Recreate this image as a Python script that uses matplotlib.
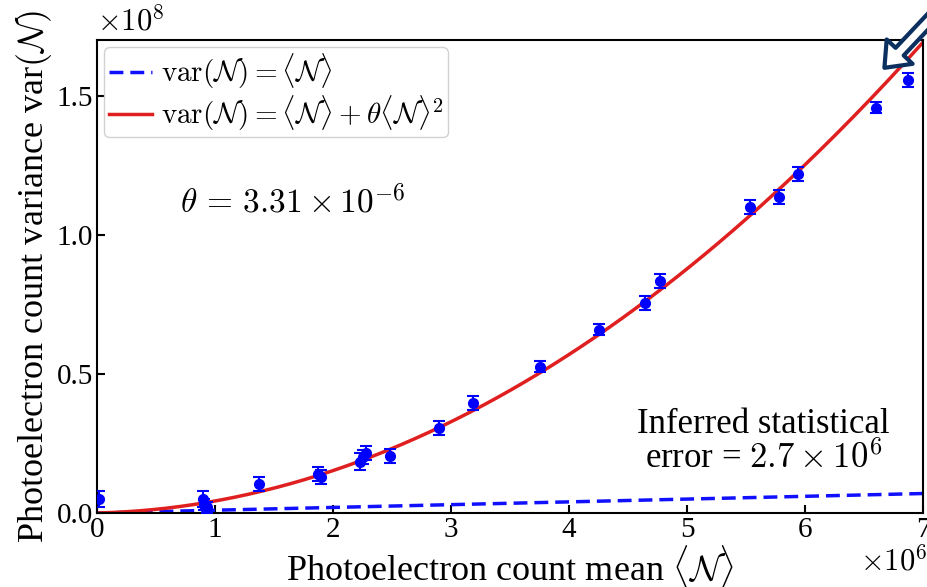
"""Photoelectron count variance vs mean, with Poisson and negative-binomial fits."""
import numpy as np
import matplotlib
matplotlib.use("Agg")
import matplotlib.pyplot as plt
from matplotlib.ticker import FuncFormatter

plt.rcParams.update({
    "font.family": "serif",
    "font.serif": ["Liberation Serif", "DejaVu Serif"],
    "mathtext.fontset": "cm",
    "axes.linewidth": 1.5,
    "axes.edgecolor": "black",
})

# measured points (mean in 1e6, variance in 1e8)
mean_n = np.array([0.02, 0.90, 0.91, 0.93, 1.37, 1.87, 1.90, 2.23, 2.25, 2.28,
                   2.48, 2.90, 3.19, 3.75, 4.25, 4.64, 4.77, 5.53, 5.78, 5.94,
                   6.60, 6.87]) * 1e6
var_n = np.array([0.05, 0.05, 0.03, 0.02, 0.105, 0.14, 0.13, 0.185, 0.20, 0.215,
                  0.205, 0.305, 0.395, 0.525, 0.658, 0.755, 0.835, 1.10, 1.135, 1.22,
                  1.457, 1.557]) * 1e8
var_err = np.array([0.03, 0.03, 0.02, 0.02, 0.025, 0.025, 0.025, 0.03, 0.025, 0.025,
                    0.025, 0.025, 0.025, 0.02, 0.02, 0.025, 0.025, 0.025, 0.025, 0.025,
                    0.02, 0.025]) * 1e8

theta = 3.31e-6
n_grid = np.linspace(0, 7e6, 300)

fig = plt.figure(figsize=(9.27, 5.87), dpi=100)
ax = fig.add_axes([97 / 927, 1 - 513 / 587, 826 / 927, 473 / 587])

ax.plot(n_grid, n_grid, color="#1010ff", linestyle="--", linewidth=2.5,
        dashes=(4, 2), label=r"$\mathrm{var}(\mathcal{N}) = \langle\mathcal{N}\rangle$")
ax.plot(n_grid, n_grid + theta * n_grid ** 2, color="#e02020", linewidth=2.5,
        label=r"$\mathrm{var}(\mathcal{N}) = \langle\mathcal{N}\rangle + \theta\langle\mathcal{N}\rangle^2$")
ax.errorbar(mean_n, var_n, yerr=var_err, fmt="o", color="#0000ff", markersize=7,
            elinewidth=1.5, capsize=4, capthick=1.5, zorder=3)

ax.set_xlim(0, 7e6)
ax.set_ylim(0, 1.70e8)
ax.set_xticks(np.arange(0, 8) * 1e6)
ax.set_yticks([0, 0.5e8, 1.0e8, 1.5e8])
ax.xaxis.set_major_formatter(FuncFormatter(lambda v, p: f"{v / 1e6:.0f}"))
ax.yaxis.set_major_formatter(FuncFormatter(lambda v, p: f"{v / 1e8:.1f}"))
ax.tick_params(direction="in", labelsize=21, length=6, width=1.5,
               top=False, right=False, pad=3)
# scale factors
ax.text(0, 1.005, r"$\times10^{8}$", transform=ax.transAxes, fontsize=22,
        ha="left", va="bottom")
ax.text(1.005, -0.07, r"$\times10^{6}$", transform=ax.transAxes, fontsize=22,
        ha="right", va="top")

ax.set_xlabel(r"Photoelectron count mean $\langle\mathcal{N}\rangle$", fontsize=26, labelpad=0)
ax.set_ylabel(r"Photoelectron count variance var$(\mathcal{N})$", fontsize=26, labelpad=2)

ax.text(0.7e6, 1.115e8, r"$\theta\,=\,3.31\times10^{-6}$", fontsize=24, va="center")
ax.text(5.65e6, 0.255e8, "Inferred statistical\nerror = $2.7\\times10^{6}$",
        fontsize=25, ha="center", va="center", linespacing=1.0)

ax.legend(loc="upper left", fontsize=21, handlelength=1.5, handletextpad=0.3,
          borderpad=0.15, labelspacing=0.1, borderaxespad=0.25, framealpha=0.9)

# navy callout arrow in the corner
ax.annotate("", xy=(0.952, 0.881), xycoords="figure fraction",
            xytext=(1.02, 0.995), textcoords="figure fraction",
            arrowprops=dict(arrowstyle="simple,head_width=1.6,head_length=1.0,tail_width=0.5",
                            fc="white", ec="#0b2f5e", lw=3, mutation_scale=16),
            annotation_clip=False)

fig.savefig("out.png", dpi=100)
